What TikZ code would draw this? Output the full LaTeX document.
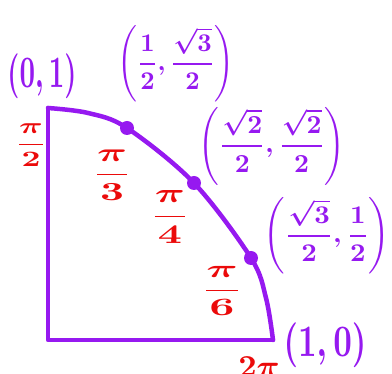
\documentclass[tikz,border=0pt]{standalone}
\usepackage{amsmath}
\definecolor{hpurple}{RGB}{150,25,240}
\definecolor{hred}{RGB}{235,10,10}
\tikzset{
  edge/.style={draw=hpurple, line width=4.5pt, line cap=round, line join=round},
  dot/.style={circle, fill=hpurple, inner sep=0pt, minimum size=14pt},
  plabel/.style={text=hpurple, inner sep=0pt, font=\boldmath},
  rlabel/.style={text=hred, inner sep=0pt, font=\boldmath}
}
\begin{document}
\begin{tikzpicture}[x=1pt,y=-1pt]
\fill[white] (0,0) rectangle (392,374);
\useasboundingbox (0,0) rectangle (392,374);
% corners
\coordinate (top) at (48,108);
\coordinate (origin) at (48,340);
\coordinate (right) at (273,340);
\coordinate (p1) at (88,113);
\coordinate (p2) at (266,298);
% dots
\coordinate (s60) at (127,128);
\coordinate (s45) at (194,183);
\coordinate (s30) at (251,258);
\draw[edge] (top) -- (origin) -- (right);
\draw[edge] plot[smooth, tension=0.55] coordinates {(top) (p1) (s60) (s45) (s30) (p2) (right)};
\node[dot] (d60) at (s60) {};
\node[dot] (d45) at (s45) {};
\node[dot] (d30) at (s30) {};
% purple labels
\node[plabel, scale=4.5, xscale=0.6] (l01) at (42,76) {$(0,1)$};
\node[plabel, scale=4.5, xscale=0.72] (l10) at (325,345) {$(1,0)$};
\node[plabel, scale=2.55, xscale=0.98] (l60) at (176,64) {$\left(\dfrac{1}{2},\dfrac{\sqrt{3}}{2}\right)$};
\node[plabel, scale=2.6, xscale=1.0] (l45) at (272,146) {$\left(\dfrac{\sqrt{2}}{2},\dfrac{\sqrt{2}}{2}\right)$};
\node[plabel, scale=2.55, xscale=1.06] (l30) at (327,236) {$\left(\dfrac{\sqrt{3}}{2},\dfrac{1}{2}\right)$};
% red labels
\node[rlabel, scale=2.2, xscale=1.5] (a90) at (31,145) {$\dfrac{\pi}{2}$};
\node[rlabel, scale=2.6, xscale=1.6] (a60) at (112,175) {$\dfrac{\pi}{3}$};
\node[rlabel, scale=2.7, xscale=1.55] (a45) at (170,217) {$\dfrac{\pi}{4}$};
\node[rlabel, scale=2.5, xscale=1.75] (a30) at (222,291) {$\dfrac{\pi}{6}$};
\node[rlabel, scale=3.2, xscale=1.0] (a0) at (259,367) {$2\pi$};
\end{tikzpicture}
\end{document}
